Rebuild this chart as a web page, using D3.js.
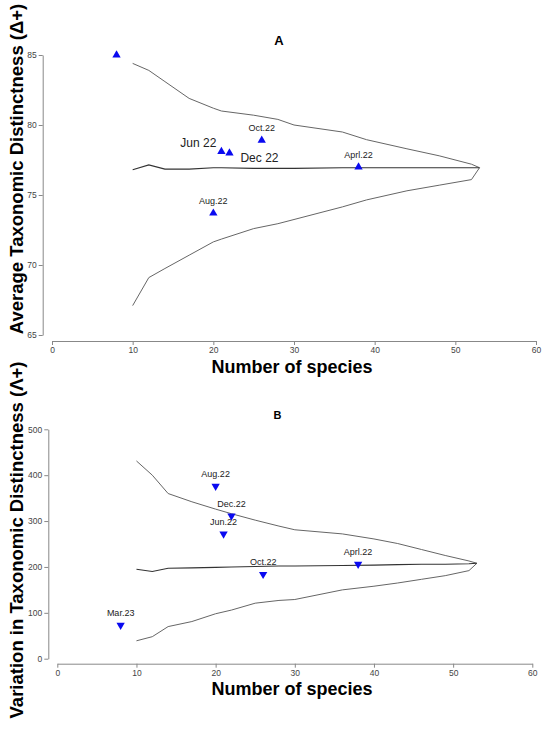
<!DOCTYPE html>
<html>
<head>
<meta charset="utf-8">
<script src="https://d3js.org/d3.v7.min.js"></script>
<style>
  body { margin: 0; background: #fff; }
  svg { display: block; font-family: "Liberation Sans", Arial, sans-serif; }
  .axis path, .axis line { stroke: #888; stroke-width: 1; }
  .axis text { fill: #444; font-size: 8.5px; font-family: "Liberation Sans", Arial, sans-serif; }
</style>
</head>
<body>
<svg id="chart" width="550" height="729"></svg>
<script>
// ---- data ----
var xTicks = [0, 10, 20, 30, 40, 50, 60];

// panel A : average taxonomic distinctness
var samplesA = ["", "Jun 22", "Dec 22", "Oct.22", "Aug.22", "Aprl.22"];
var speciesA = [8, 21, 22, 26, 20, 38];
var deltaA = [85.0, 78.1, 78.0, 78.9, 73.7, 77.0];
var yTicksA = [65, 70, 75, 80, 85];

var funnelXA = [10, 12, 14, 17, 20, 21, 25, 28, 30, 36, 39, 44, 48, 52, 53];
var upperA = [84.4, 83.9, 83.1, 81.9, 81.2, 81.0, 80.7, 80.4, 80.0, 79.5, 78.95, 78.3, 77.8, 77.2, 76.95];
var meanA = [76.8, 77.15, 76.85, 76.85, 76.95, 76.95, 76.9, 76.9, 76.9, 76.95, 76.95, 76.95, 76.95, 76.95, 76.95];
var lowerA = [67.1, 69.1, 69.75, 70.7, 71.65, 71.85, 72.6, 72.95, 73.25, 74.15, 74.65, 75.3, 75.7, 76.1, 76.95];

// panel B : variation in taxonomic distinctness
var samplesB = ["Mar.23", "Aug.22", "Dec.22", "Jun.22", "Oct.22", "Aprl.22"];
var speciesB = [8, 20, 22, 21, 26, 38];
var lambdaB = [73, 376, 311, 272, 184, 206];
var yTicksB = [0, 100, 200, 300, 400, 500];

var funnelXB = [10, 12, 14, 17, 20, 22, 25, 28, 30, 36, 40, 43, 46, 49, 52, 53];
var upperB = [431, 400, 360, 342, 326, 316, 302, 289, 281, 272, 261, 251, 238, 225, 213, 208];
var meanB = [195, 190, 197, 198, 199, 200, 201, 202, 202, 203, 204, 205, 206, 206, 207, 208];
var lowerB = [39, 48, 70, 81, 98, 106, 121, 127, 129, 150, 158, 165, 173, 181, 192, 208];

var svg = d3.select("#chart");
var blue = "#0a0af0";

function panel(o) {
  var x = d3.scaleLinear().domain([0, 60]).range(o.xRange),
      y = d3.scaleLinear().domain(o.yDomain).range(o.yRange),
      g = svg.append("g");

  g.append("g")
      .attr("class", "axis")
      .attr("transform", "translate(0," + o.xAxisY + ")")
      .call(d3.axisBottom(x).tickValues(xTicks).tickSize(4).tickSizeOuter(0).tickPadding(2));

  g.append("g")
      .attr("class", "axis")
      .attr("transform", "translate(" + o.yAxisX + ",0)")
      .call(d3.axisLeft(y).tickValues(o.yTicks).tickSize(4).tickSizeOuter(0).tickPadding(2));

  var line = d3.line()
      .x(function(d) { return x(d[0]); })
      .y(function(d) { return y(d[1]); });

  [[o.upper, "#666", 1], [o.lower, "#666", 1], [o.mean, "#333", 1.1]].forEach(function(s) {
    g.append("path")
        .datum(d3.zip(o.funnelX, s[0]))
        .attr("fill", "none")
        .attr("stroke", s[1])
        .attr("stroke-width", s[2])
        .attr("d", line);
  });

  var pts = d3.range(o.species.length).map(function(i) {
    return {n: o.species[i], v: o.values[i], label: o.labels[i]};
  });

  var tri = d3.symbol().type(d3.symbolTriangle).size(30);
  g.selectAll(".pt")
    .data(pts)
    .enter().append("path")
      .attr("class", "pt")
      .attr("d", tri)
      .attr("fill", blue)
      .attr("transform", function(d) {
        return "translate(" + x(d.n) + "," + y(d.v) + ")" + (o.down ? " rotate(180)" : "");
      });

  g.selectAll(".lbl")
    .data(pts.filter(function(d) { return d.label; }))
    .enter().append("text")
      .attr("class", "lbl")
      .attr("fill", "#222")
      .each(function(d) {
        var t = d3.select(this), px = x(d.n), py = y(d.v), side = o.place[d.label];
        if (side === "left") {
          t.attr("x", px - 5).attr("y", py - 5).attr("text-anchor", "end").attr("font-size", "12px");
        } else if (side === "right") {
          t.attr("x", px + 11).attr("y", py + 9).attr("text-anchor", "start").attr("font-size", "12px");
        } else {
          t.attr("x", px).attr("y", py - 9).attr("text-anchor", "middle").attr("font-size", "9px");
        }
      })
      .text(function(d) { return d.label; });

  g.append("text")
      .attr("x", o.titlePos[0]).attr("y", o.titlePos[1])
      .attr("text-anchor", "middle")
      .attr("font-weight", "bold")
      .attr("font-size", o.titleSize)
      .text(o.title);

  g.append("text")
      .attr("x", 292).attr("y", o.xLabelY)
      .attr("text-anchor", "middle")
      .attr("font-weight", "bold")
      .attr("font-size", "18px")
      .text("Number of species");

  g.append("text")
      .attr("transform", "translate(23," + o.yLabelMid + ") rotate(-90)")
      .attr("text-anchor", "middle")
      .attr("font-weight", "bold")
      .attr("font-size", "18.5px")
      .text(o.yLabel);
}

panel({
  xRange: [52, 536], yDomain: [65, 85], yRange: [335, 55],
  xAxisY: 341, yAxisX: 42.7, yTicks: yTicksA,
  funnelX: funnelXA, upper: upperA, mean: meanA, lower: lowerA,
  species: speciesA, values: deltaA, labels: samplesA, down: false,
  place: {"Jun 22": "left", "Dec 22": "right"},
  title: "A", titlePos: [279, 45], titleSize: "13px",
  xLabelY: 372.5, yLabelMid: 169,
  yLabel: "Average Taxonomic Distinctness (\u0394+)"
});

panel({
  xRange: [57.3, 532.3], yDomain: [0, 500], yRange: [658.7, 429.3],
  xAxisY: 663.7, yAxisX: 48.3, yTicks: yTicksB,
  funnelX: funnelXB, upper: upperB, mean: meanB, lower: lowerB,
  species: speciesB, values: lambdaB, labels: samplesB, down: true,
  place: {},
  title: "B", titlePos: [277.5, 419], titleSize: "11px",
  xLabelY: 695, yLabelMid: 540,
  yLabel: "Variation in Taxonomic Distinctness (\u039B+)"
});
</script>
</body>
</html>
